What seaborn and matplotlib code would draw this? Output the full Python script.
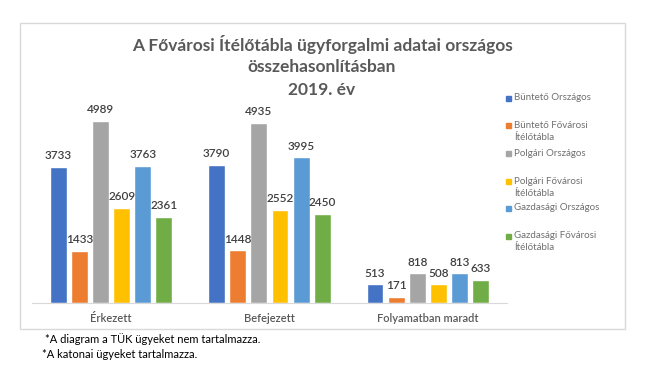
import seaborn as sns
import matplotlib.pyplot as plt
import matplotlib.patches as mpatches
import pandas as pd

categories = ['Érkezett', 'Befejezett', 'Folyamatban maradt']
series = ['Büntető Országos', 'Büntető Fővárosi Ítélőtábla', 'Polgári Országos',
          'Polgári Fővárosi Ítélőtábla', 'Gazdasági Országos', 'Gazdasági Fővárosi Ítélőtábla']
legend_labels = ['Büntető Országos', 'Büntető Fővárosi\nÍtélőtábla', 'Polgári Országos',
                 'Polgári Fővárosi\nÍtélőtábla', 'Gazdasági Országos', 'Gazdasági Fővárosi\nÍtélőtábla']
buntet_orszagos = [3733, 3790, 513]
buntet_fovarosi = [1433, 1448, 171]
polgari_orszagos = [4989, 4935, 818]
polgari_fovarosi = [2609, 2552, 508]
gazd_orszagos = [3763, 3995, 813]
gazd_fovarosi = [2361, 2450, 633]
colors = ['#4472C4', '#ED7D31', '#A5A5A5', '#FFC000', '#5B9BD5', '#70AD47']

all_values = [buntet_orszagos, buntet_fovarosi, polgari_orszagos,
              polgari_fovarosi, gazd_orszagos, gazd_fovarosi]
rows = []
for s, vals in zip(series, all_values):
    for c, v in zip(categories, vals):
        rows.append({'kategoria': c, 'sorozat': s, 'ertek': v})
df = pd.DataFrame(rows)

sns.set_style('white')
plt.rcParams['font.family'] = ['Lato', 'DejaVu Sans']

fig = plt.figure(figsize=(6.57, 3.78), dpi=100)
ax = fig.add_axes([32 / 657, 75 / 378, 475 / 657, 219 / 378])

sns.barplot(data=df, x='kategoria', y='ertek', hue='sorozat', order=categories,
            hue_order=series, palette=colors, width=0.8, gap=0.2, ax=ax,
            legend=False, saturation=1)

for cont in ax.containers:
    ax.bar_label(cont, padding=4, fontsize=8.5, color='#404040', fontweight='semibold')

ax.set_ylim(0, 6000)
ax.set_xlim(-0.5, 2.5)
ax.set_xlabel('')
ax.set_ylabel('')
ax.set_yticks([])
ax.tick_params(axis='x', length=0, pad=7, labelsize=8, labelcolor='#595959')
for lbl in ax.get_xticklabels():
    lbl.set_fontweight('semibold')
for sp in ['top', 'left', 'right']:
    ax.spines[sp].set_visible(False)
ax.spines['bottom'].set_color('#d9d9d9')

# chart frame
fig.patches.append(mpatches.Rectangle((20 / 657, 1 - 329 / 378), 605 / 657, 306 / 378,
                                      transform=fig.transFigure, fill=False,
                                      edgecolor='#d9d9d9', linewidth=1))

title_lines = ['A Fővárosi Ítélőtábla ügyforgalmi adatai országos', 'összehasonlításban', '2019. év']
for line, y in zip(title_lines, [44, 67, 90]):
    fig.text(322 / 657, 1 - y / 378, line, ha='center', va='center', fontsize=12.5,
             fontweight='bold', color='#595959')

# legend
legend_y = [98, 125, 153, 181, 208, 236]
for lab, col, y in zip(legend_labels, colors, legend_y):
    fig.patches.append(mpatches.Rectangle((506 / 657, 1 - (y + 3) / 378), 5 / 657, 5 / 378,
                                          transform=fig.transFigure, color=col))
    parts = lab.split('\n')
    for i, p in enumerate(parts):
        fig.text(514 / 657, 1 - (y + 12 * i) / 378, p, ha='left', va='center',
                 fontsize=7, color='#6f6f6f')

fig.text(45 / 657, 1 - 339 / 378, '*A diagram a TÜK ügyeket nem tartalmazza.',
         ha='left', va='center', fontsize=8, color='black')
fig.text(42 / 657, 1 - 355 / 378, '*A katonai ügyeket tartalmazza.',
         ha='left', va='center', fontsize=8, color='black')

fig.savefig('out.png', dpi=100)
